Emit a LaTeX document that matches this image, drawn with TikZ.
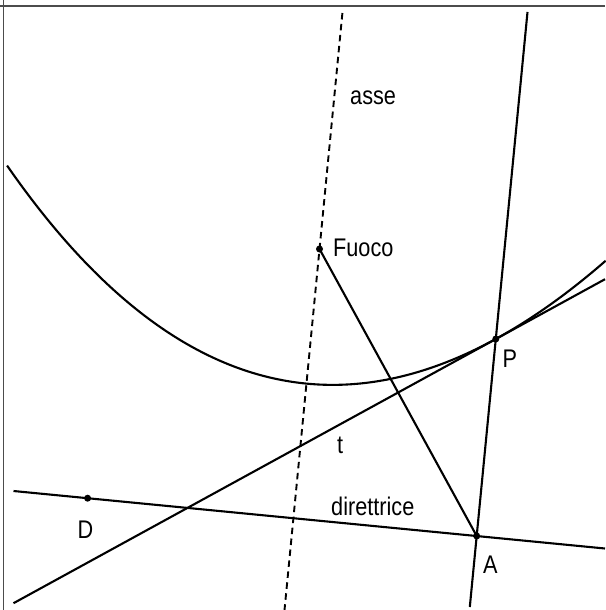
\documentclass[tikz,border=0pt]{standalone}
\usepackage{fontspec}
\setmainfont{Liberation Sans}[FakeStretch=0.85]
\begin{document}
\begin{tikzpicture}[x=1pt,y=1pt,
  ln/.style={line width=2.1pt,black},
  axisln/.style={line width=1.9pt,black,dash pattern=on 6.5pt off 4.5pt},
  framel/.style={line width=1.3pt,black!70},
  pt/.style={circle,fill=black,inner sep=0pt,minimum size=7pt},
  lbl/.style={anchor=base west,inner sep=0pt,font=\fontsize{25.5}{28}\selectfont}]
\useasboundingbox (0,0) rectangle (605,-610);
% frame
\coordinate (fl1) at (3.3,0); \coordinate (fl2) at (3.3,-610);
\coordinate (ft1) at (0,-6); \coordinate (ft2) at (605,-6);
\draw[framel] (fl1) -- (fl2);
\draw[framel] (ft1) -- (ft2);
% key points
\coordinate (F) at (319.5,-249);
\coordinate (P) at (495.8,-339.0);
\coordinate (A) at (476.7,-536.0);
\coordinate (D) at (87.6,-498.2);
% line ends
\coordinate (dl) at (13.5,-491.0);
\coordinate (dr) at (605,-548.5);
\coordinate (tl) at (13.5,-603.2);
\coordinate (tr) at (605,-279.2);
\coordinate (apt) at (527.5,-12);
\coordinate (apb) at (469.8,-607);
\coordinate (axt) at (342.4,-13);
\coordinate (axb) at (284.5,-610);
% parabola
\begin{scope}[shift={(306.4,-383.6)},rotate=-5.545]
\draw[ln] plot[domain=-319:286,samples=120,smooth] (\x,{(\x/100)*(\x/100)*100/5.41});
\end{scope}
% lines
\draw[axisln] (axt) -- (axb);
\draw[ln] (dl) -- (dr);
\draw[ln] (tl) -- (tr);
\draw[ln] (apt) -- (apb);
\draw[ln] (F) -- (A);
% dots
\node[pt] (nF) at (F) {};
\node[pt] (nP) at (P) {};
\node[pt] (nA) at (A) {};
\node[pt] (nD) at (D) {};
% labels
\node[lbl] (lasse) at (350,-104) {asse};
\node[lbl] (lfuoco) at (333,-256.7) {Fuoco};
\node[lbl] (lP) at (502.5,-367) {P};
\node[lbl] (lt) at (337,-453) {t};
\node[lbl] (lD) at (77.5,-538) {D};
\node[lbl] (lA) at (483,-573) {A};
\node[lbl] (ldir) at (331,-515) {direttrice};
\end{tikzpicture}
\end{document}
